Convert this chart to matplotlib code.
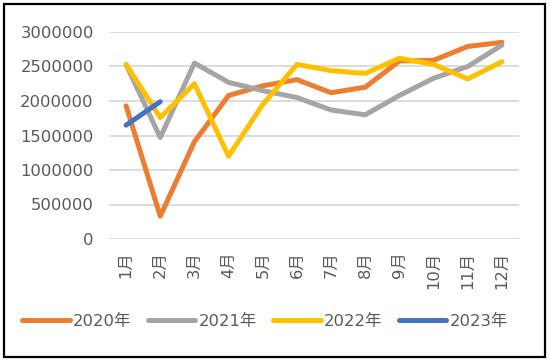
import matplotlib
matplotlib.use("Agg")
import matplotlib.pyplot as plt
from matplotlib.patches import Rectangle

plt.rcParams['font.family'] = ['DejaVu Sans', 'Noto Sans CJK SC']

months = ["1月", "2月", "3月", "4月", "5月", "6月", "7月", "8月", "9月", "10月", "11月", "12月"]
s2020 = [1930000, 330000, 1410000, 2080000, 2220000, 2310000, 2120000, 2200000, 2580000, 2590000, 2790000, 2850000]
s2021 = [2530000, 1470000, 2550000, 2270000, 2150000, 2050000, 1870000, 1800000, 2080000, 2330000, 2500000, 2810000]
s2022 = [2530000, 1760000, 2250000, 1200000, 1950000, 2530000, 2440000, 2400000, 2620000, 2530000, 2320000, 2570000]
s2023 = [1650000, 1990000]
series_names = ["2020年", "2021年", "2022年", "2023年"]
colors = ["#ED7D31", "#A5A5A5", "#FFC000", "#4472C4"]
yticks = [0, 500000, 1000000, 1500000, 2000000, 2500000, 3000000]

fig = plt.figure(figsize=(5.5, 3.62), dpi=100)
ax = fig.add_axes([109/550, 1-239/362, 410/550, 207/362])

x = list(range(len(months)))
for data, name, c in zip([s2020, s2021, s2022, s2023], series_names, colors):
    ax.plot(x[:len(data)], data, color=c, lw=3.6, label=name, solid_capstyle='round', solid_joinstyle='round')

ax.set_xlim(-0.5, 11.5)
ax.set_ylim(0, 3000000)
ax.set_yticks(yticks)
ax.set_yticklabels([str(v) for v in yticks])
ax.set_xticks(x)
ax.set_xticklabels(months, rotation=90)
ax.tick_params(axis='both', length=0, colors='#595959', labelsize=11.8)
ax.tick_params(axis='y', pad=11)
ax.tick_params(axis='x', pad=9)
ax.grid(axis='y', color='#D9D9D9', lw=1.3)
ax.set_axisbelow(True)
for s in ax.spines.values():
    s.set_visible(False)

fig.legend(loc='center', bbox_to_anchor=(0.482, 1-321/362), ncol=4, frameon=False,
           fontsize=11.8, handlelength=2.9, handletextpad=0.2, columnspacing=1.0,
           labelcolor='#595959')

fig.patches.append(Rectangle((4/550, 1-357/362), 541/550, 353/362, transform=fig.transFigure,
                             fill=False, edgecolor='black', lw=1.6))

fig.savefig("out.png", dpi=100)
